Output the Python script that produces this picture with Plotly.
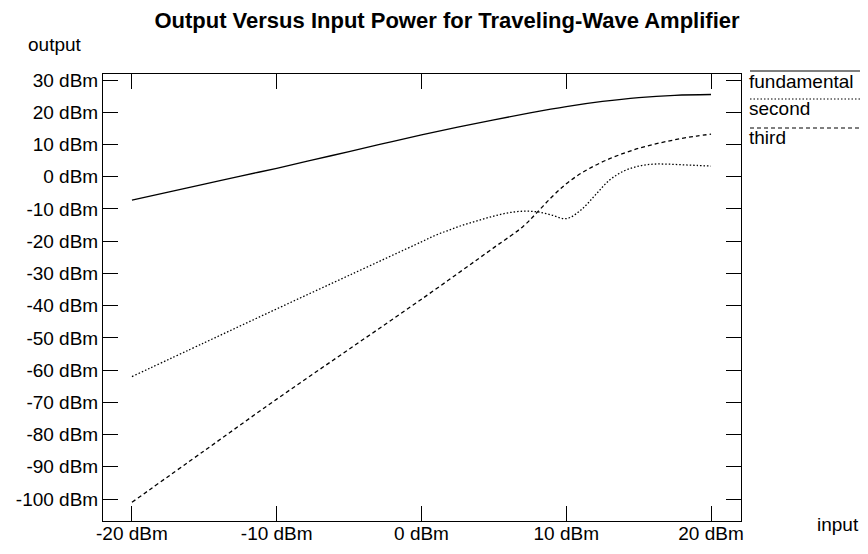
import plotly.graph_objects as go

# input power (dBm)
x_in = [-20, -17.5, -15, -12.5, -10, -7.5, -5, -2.5, 0, 2.5, 5, 7.5, 10, 12.5, 15, 17.5, 20]
fundamental = [-7.3, -4.8, -2.3, 0.2, 2.6, 5.2, 7.8, 10.4, 12.95, 15.35, 17.65, 19.8, 21.75, 23.35, 24.55, 25.25, 25.5]

x_second = [-20, -15, -10, -5, 0, 1, 2, 3, 4, 5, 6, 7, 8, 9, 10, 11, 12, 13, 14, 15, 16, 17, 18, 19, 20]
second = [-62, -51.5, -41, -30.6, -20.2, -18.1, -16.4, -14.8, -13.5, -12.2, -11.2, -10.7, -10.9, -11.9, -13.0,
          -10.4, -5.7, -1.0, 1.8, 3.3, 3.9, 3.9, 3.7, 3.5, 3.3]

x_third = [-20, -15, -10, -5, 0, 5, 7, 8, 9, 10, 11, 12, 13, 14, 15, 16, 17, 18, 19, 20]
third = [-101, -85, -69, -53.5, -38, -22, -15.5, -11, -6.3, -2.2, 1.0, 3.5, 5.6, 7.3, 8.8, 10.0, 11.0, 11.9, 12.6, 13.2]

x_ticks = [-20, -10, 0, 10, 20]
y_ticks = [30, 20, 10, 0, -10, -20, -30, -40, -50, -60, -70, -80, -90, -100]

legend_names = ["fundamental", "second", "third"]
dash_styles = ["solid", "1.5px,2px", "4px,3px"]

FONT = "Liberation Sans, Arial, sans-serif"
FS = 19

# the page body adds an 8px offset; the figure is sized so that the screen layout matches
OFF = 8
W, H = 868 - OFF, 554 - OFF
L, R, T, B = 103, 741, 74, 521   # plot frame in screen pixels

def px(sx):
    return (sx - L) / (R - L)

def py(sy):
    return (B - sy) / (B - T)

fig = go.Figure()
fig.add_trace(go.Scatter(x=x_in, y=fundamental, mode="lines", line=dict(color="black", width=1.3, shape="spline", dash=dash_styles[0]), name=legend_names[0]))
fig.add_trace(go.Scatter(x=x_second, y=second, mode="lines", line=dict(color="black", width=1.3, shape="spline", dash=dash_styles[1]), name=legend_names[1]))
fig.add_trace(go.Scatter(x=x_third, y=third, mode="lines", line=dict(color="black", width=1.3, shape="spline", dash=dash_styles[2]), name=legend_names[2]))

axis_common = dict(showgrid=False, zeroline=False, showline=True, linecolor="black", linewidth=1,
                   mirror="allticks", ticks="inside", ticklen=15, tickcolor="black", tickwidth=1,
                   automargin=False,
                   tickfont=dict(family=FONT, size=FS, color="black"))

fig.update_layout(
    width=W, height=H,
    margin=dict(l=L - OFF, r=W - (R - OFF), t=T - OFF, b=H - (B - OFF), autoexpand=False),
    paper_bgcolor="white", plot_bgcolor="white",
    showlegend=False,
    title=dict(text="<b>Output Versus Input Power for Traveling-Wave Amplifier</b>",
               x=(447 - OFF) / W, xanchor="center", y=1 - (20 - OFF) / H, yanchor="middle",
               font=dict(family=FONT, size=22, color="black")),
    xaxis=dict(range=[-22, 22.07], tickvals=x_ticks, ticktext=[f"{v} dBm" for v in x_ticks],
               ticklabelstandoff=-5, **axis_common),
    yaxis=dict(range=[-106.8, 31.86], tickvals=y_ticks, ticktext=[f"{v} dBm" for v in y_ticks], **axis_common),
)

# axis labels
fig.add_annotation(text="output", xref="paper", yref="paper", x=px(55), y=py(44),
                   xanchor="center", yanchor="middle", showarrow=False, font=dict(family=FONT, size=FS, color="black"))
fig.add_annotation(text="input", xref="paper", yref="paper", x=px(838), y=py(524),
                   xanchor="center", yanchor="middle", showarrow=False, font=dict(family=FONT, size=FS, color="black"))

# legend drawn to the right of the frame
legend_line_y = [71, 99, 128]
legend_text_y = [81, 109, 137]
for name, dash, ly, ty in zip(legend_names, dash_styles, legend_line_y, legend_text_y):
    fig.add_shape(type="line", xref="paper", yref="paper",
                  x0=px(750), x1=px(868), y0=py(ly), y1=py(ly),
                  line=dict(color="black", width=1.2, dash=dash))
    fig.add_annotation(text=name, xref="paper", yref="paper", x=px(747), y=py(ty),
                       xanchor="left", yanchor="middle", showarrow=False,
                       font=dict(family=FONT, size=FS, color="black"))

fig.write_html("out.html")
